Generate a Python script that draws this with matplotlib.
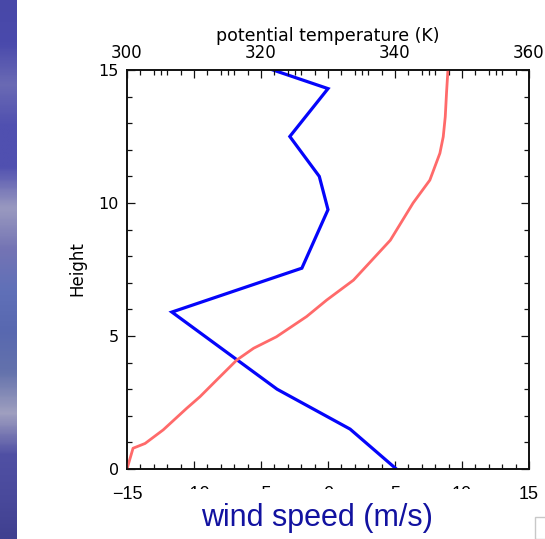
import numpy as np
import matplotlib
matplotlib.use("Agg")
import matplotlib.pyplot as plt
from matplotlib.patches import Rectangle
from matplotlib.colors import LinearSegmentedColormap
from matplotlib.ticker import FixedLocator, MultipleLocator, FuncFormatter

# ---- data ----
wind_height = [0.0, 1.5, 3.0, 5.9, 7.55, 9.75, 11.0, 12.5, 14.3, 15.0]
wind_speed = [5.1, 1.65, -3.8, -11.65, -1.95, 0.0, -0.65, -2.85, 0.0, -4.1]

theta_height = [0.0, 0.78, 0.96, 1.47, 2.28, 2.72, 3.35, 4.1, 4.54, 4.97, 5.73,
                6.35, 7.1, 8.6, 10.0, 10.86, 11.87, 12.49, 13.24, 14.18, 15.0]
theta = [300.0, 300.9, 302.7, 305.4, 308.9, 310.9, 313.4, 316.4, 318.9, 322.3, 326.8,
         329.8, 333.8, 339.3, 342.7, 345.2, 346.7, 347.2, 347.5, 347.7, 347.9]

wind_ticks = [-15, -10, -5, 0, 5, 10, 15]
height_ticks = [0, 5, 10, 15]
theta_major = [300, 310, 320, 330, 340, 350, 360]
theta_minor = [t + d for t in range(300, 360, 10) for d in (2, 4, 5, 6, 8)]

# slide background strip colours (top -> bottom)
strip_cols = ["#4848a8", "#4a4aac", "#6a6ab4", "#5050b0", "#5050b0", "#9a9ac0",
              "#7474b4", "#6070b8", "#5868b0", "#6472ac", "#a0a0c0", "#5050a4",
              "#4a4a9c", "#404090"]

W, H = 545, 539
fig = plt.figure(figsize=(W / 100, H / 100), dpi=100)
fig.patch.set_facecolor("white")

# blue slide strip at the left edge
sax = fig.add_axes([0, 0, 17 / W, 1])
cmap = LinearSegmentedColormap.from_list("strip", strip_cols)
sax.imshow(np.linspace(0, 1, 200)[:, None], cmap=cmap, aspect="auto", interpolation="bilinear")
sax.axis("off")

L, R, T, B = 127, 529, 70, 469
ax = fig.add_axes([L / W, 1 - B / H, (R - L) / W, (B - T) / H])
ax.plot(wind_speed, wind_height, color="#0505fa", lw=2.3, solid_joinstyle="miter")
ax.set_xlim(-15, 15)
ax.set_ylim(0, 15)

for s in ax.spines.values():
    s.set_linewidth(1.2)
    s.set_color("#111111")

ax.xaxis.set_major_locator(FixedLocator(wind_ticks))
ax.xaxis.set_minor_locator(MultipleLocator(1))
ax.yaxis.set_major_locator(FixedLocator(height_ticks))
ax.yaxis.set_minor_locator(MultipleLocator(1))
ax.tick_params(which="both", direction="in", top=False, right=True, width=0.9, color="#111111")
ax.tick_params(which="major", length=6)
ax.tick_params(which="minor", length=3.5)
ax.tick_params(axis="x", which="major", pad=12, labelsize=13)
ax.tick_params(axis="y", which="major", pad=6, labelsize=11.5)
ax.xaxis.set_major_formatter(FuncFormatter(lambda v, p: f"{int(v)}".replace("-", "\u2212")))
for lab in ax.get_xticklabels():
    lab.set_fontfamily("Liberation Sans")

ax2 = ax.twiny()
ax2.plot(theta, theta_height, color="#ff6a6a", lw=2.0)
ax2.set_xlim(300, 360)
ax2.xaxis.set_major_locator(FixedLocator(theta_major))
ax2.xaxis.set_minor_locator(FixedLocator(theta_minor))
ax2.xaxis.set_major_formatter(FuncFormatter(lambda v, p: f"{int(v)}" if int(v) % 20 == 0 else ""))
ax2.tick_params(which="both", direction="in", top=True, bottom=False, width=0.9, color="#111111")
ax2.tick_params(which="major", length=6, pad=6, labelsize=12)
ax2.tick_params(which="minor", length=3.5)
for s in ax2.spines.values():
    s.set_linewidth(1.2)
    s.set_color("#111111")

fig.text(328 / W, 1 - 36 / H, "potential temperature (K)", ha="center", va="center", fontsize=12.5)
fig.text(77 / W, 1 - 269 / H, "Height", ha="center", va="center", rotation=90, fontsize=12)

# white text box pasted over the inner wind-speed tick labels
fig.add_artist(Rectangle((150 / W, 0), 355 / W, 1 - 488.5 / H, transform=fig.transFigure,
                         facecolor="white", edgecolor="none", zorder=5))
fig.text(317 / W, 1 - 518 / H, "wind speed (m/s)", ha="center", va="center", fontsize=22,
         family="Liberation Sans", color="#1212a0", zorder=6)
fig.add_artist(Rectangle((535 / W, 0), 30 / W, 1 - 517 / H, transform=fig.transFigure,
                         facecolor="none", edgecolor="#c8c8c8", lw=1, zorder=6))

fig.savefig("out.png", dpi=100)
